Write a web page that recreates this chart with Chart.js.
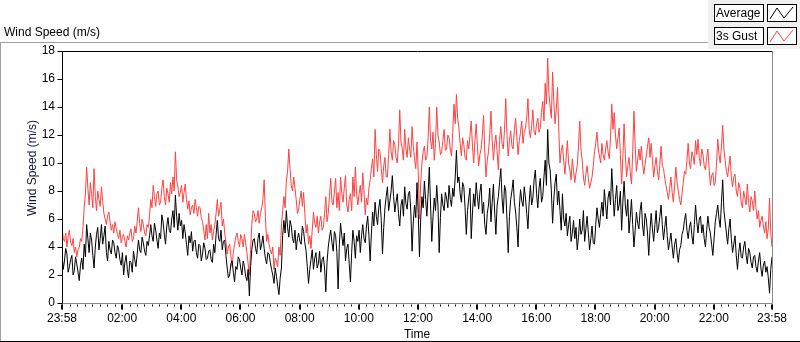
<!DOCTYPE html>
<html>
<head>
<meta charset="utf-8">
<script src="https://cdn.jsdelivr.net/npm/chart.js@4/dist/chart.umd.min.js"></script>
<style>
  html, body { margin: 0; padding: 0; background: #fff; }
  #wrap { position: relative; width: 800px; height: 342px; }
</style>
</head>
<body>
<div id="wrap"><canvas id="windChart" width="800" height="342"></canvas></div>
<script>
// setup - values, one sample every 2.5 minutes from 23:58
// (one row = one hour)
const sampleStepMin = 2.5;

const avgSpeed = [
  3.6,2.4,3.0,3.9,3.5,2.2,2.6,3.1,3.4,2.0,2.3,3.3,2.8,2.2,1.6,2.7,3.2,2.4,4.2,3.3,5.6,4.6,3.6,5.0,
  4.5,3.4,2.5,4.0,4.9,5.4,3.8,4.6,5.6,4.2,4.8,5.5,3.6,3.0,4.4,3.8,3.5,4.5,4.3,3.6,3.2,4.1,3.8,3.1,
  2.7,3.6,2.0,2.9,3.4,2.4,1.8,3.0,2.9,2.2,3.7,3.1,2.6,3.5,4.5,3.8,3.6,4.7,4.3,3.7,3.4,4.4,4.1,4.8,
  5.6,4.8,4.4,5.7,5.2,4.5,3.9,5.0,4.6,6.3,5.8,4.9,4.2,5.5,6.1,5.2,5.0,6.0,6.6,5.4,7.7,6.2,5.2,6.4,
  5.5,5.9,4.6,5.6,5.0,4.2,3.4,4.8,4.3,5.1,3.7,4.4,4.5,3.6,3.2,4.2,4.1,3.0,3.5,4.3,3.9,3.1,3.2,3.7,
  3.8,3.1,2.9,4.2,3.6,4.9,5.9,4.6,4.4,5.2,3.8,4.4,4.5,3.4,2.5,1.8,2.0,2.8,3.0,2.2,1.5,2.6,2.4,3.3,
  3.1,2.5,2.0,3.0,2.6,1.9,1.6,2.4,0.5,2.6,3.8,4.5,4.6,3.9,3.5,4.6,5.0,3.8,4.2,4.8,3.9,3.2,2.8,3.6,
  3.5,2.9,2.4,2.0,1.4,2.5,1.9,1.2,0.6,1.8,2.5,4.8,5.9,5.0,6.6,5.4,4.7,5.9,5.5,4.6,4.3,5.2,3.8,4.6,
  5.0,4.4,4.2,5.5,5.1,4.3,3.7,2.6,1.4,2.4,3.1,3.8,2.4,3.2,3.6,2.5,2.8,3.7,2.2,3.1,3.3,2.5,0.8,2.9,
  4.0,4.7,5.2,4.3,3.7,5.1,4.8,3.6,1.0,4.2,5.7,4.8,4.1,5.0,3.0,3.9,4.2,2.8,1.5,3.6,5.2,4.4,3.2,4.8,
  4.4,5.2,3.6,4.8,5.6,4.6,4.3,5.5,6.2,4.8,3.0,5.0,6.5,5.5,7.2,6.2,5.6,6.8,7.4,5.9,3.5,5.4,6.8,7.6,
  8.3,6.6,7.3,8.0,9.1,7.6,6.5,7.2,7.8,6.4,5.5,7.0,7.4,6.2,8.3,7.1,6.7,7.8,8.0,6.5,3.7,5.8,7.0,6.1,
  8.6,6.4,3.3,6.0,7.6,6.8,8.7,7.4,6.2,7.8,9.7,7.0,4.4,6.2,7.5,6.6,8.4,7.0,3.6,6.1,7.8,7.0,6.6,7.9,
  7.5,6.8,8.4,7.4,6.9,8.2,7.6,9.0,10.9,8.6,9.0,7.8,7.2,8.6,8.3,6.8,4.9,6.6,7.5,8.2,4.6,6.5,7.8,6.9,
  8.6,7.6,6.7,7.9,8.5,6.4,7.2,5.6,4.9,6.4,7.0,8.2,5.8,7.2,8.5,6.5,4.9,7.0,7.6,8.6,9.6,7.5,6.4,8.4,
  8.0,6.0,3.6,6.2,7.4,8.0,8.8,7.2,6.5,5.4,4.0,6.8,8.1,7.3,6.9,8.3,7.5,6.4,5.3,7.2,8.4,7.0,7.5,8.8,
  9.5,7.8,6.8,8.2,8.9,7.2,7.6,9.0,10.2,8.4,12.4,10.0,9.5,8.0,5.7,7.4,8.6,9.2,7.0,8.0,6.6,5.2,7.8,6.0,
  5.5,6.4,4.8,5.6,6.2,4.4,5.0,5.9,4.6,5.4,3.8,4.7,6.0,4.9,5.2,6.6,4.4,5.3,6.2,5.0,3.8,4.6,5.5,4.3,
  4.2,5.6,6.8,6.0,5.4,6.4,7.2,6.2,8.1,7.0,6.0,7.5,8.0,7.0,9.6,7.8,6.2,7.4,8.4,6.6,7.0,8.0,5.2,7.2,
  8.7,7.0,6.2,7.4,5.0,6.1,7.4,5.6,4.0,5.2,6.5,5.7,5.3,6.6,7.2,5.5,4.8,6.4,6.0,5.0,3.4,5.2,6.4,5.3,
  4.4,5.6,6.6,5.0,5.4,6.2,7.0,5.6,4.5,5.4,6.2,4.8,3.8,4.4,5.0,4.0,3.2,4.2,4.6,3.6,2.9,3.8,4.1,4.9,
  5.2,5.9,6.4,5.2,4.6,5.4,5.8,4.8,4.2,5.6,7.0,5.8,5.0,6.0,6.2,5.0,5.6,4.6,4.0,5.2,6.2,5.4,5.0,4.2,
  3.4,4.6,5.8,6.4,7.0,6.0,5.4,7.2,8.8,6.6,5.8,5.0,4.2,5.3,6.0,4.6,3.6,4.2,4.8,3.4,2.4,3.6,4.3,3.3,
  3.2,4.0,4.4,3.4,2.8,3.9,3.6,2.9,2.5,3.3,3.4,2.6,2.2,3.0,3.6,2.5,1.9,2.7,3.0,2.2,2.6,1.8,0.7,2.4,
  3.3
];

const gustSpeed = [
  5.4,4.6,4.4,5.0,4.0,4.8,5.2,4.3,4.1,4.6,3.6,4.0,3.3,3.8,4.0,4.6,4.4,5.4,6.8,7.8,9.7,8.2,7.0,8.6,
  7.8,6.8,9.6,7.6,6.6,8.0,7.4,6.9,8.3,7.3,6.4,6.0,5.6,6.2,6.5,5.8,5.2,5.6,5.0,5.8,5.3,4.9,4.6,5.2,
  4.3,4.7,4.9,4.4,4.0,4.8,4.5,5.0,5.3,4.4,4.6,5.5,5.0,5.8,6.8,5.7,5.1,6.0,5.6,5.0,4.8,5.6,5.4,6.2,
  7.4,6.8,8.4,7.6,6.9,7.8,8.0,7.0,7.2,8.2,8.8,7.6,7.0,8.2,7.8,7.2,8.6,7.8,9.0,8.0,10.8,8.8,8.3,7.6,
  7.9,8.4,7.2,7.9,8.5,7.4,6.7,7.3,6.3,6.8,7.0,6.4,7.4,6.8,6.2,6.9,6.8,6.1,5.8,5.2,4.5,5.6,4.6,6.4,
  5.0,5.6,4.5,5.1,5.6,6.4,7.4,6.2,6.7,7.2,5.5,6.0,5.0,4.4,3.5,4.0,4.2,3.4,2.6,3.6,4.2,4.7,5.0,4.4,
  4.0,4.9,4.6,4.0,4.9,4.3,3.6,2.8,2.0,3.8,5.6,6.6,6.4,5.8,6.0,6.6,5.7,6.4,6.8,7.4,8.8,6.2,4.4,4.9,
  4.2,3.8,3.5,4.0,2.4,3.2,3.0,2.6,4.0,3.4,5.5,6.6,7.6,6.8,8.7,9.4,11.0,9.6,8.4,8.0,9.0,8.2,7.4,6.4,
  6.7,7.4,8.0,6.9,7.9,6.4,5.0,5.6,4.2,4.8,3.9,5.2,6.5,5.7,5.4,6.2,5.0,5.8,6.2,5.2,5.4,6.4,7.6,5.8,
  6.4,7.6,8.9,7.2,7.0,8.0,8.9,6.8,7.9,6.6,9.0,7.8,7.2,8.2,9.1,7.0,6.5,7.4,7.8,6.6,9.0,7.6,9.7,7.8,
  7.0,7.8,8.4,7.2,9.3,8.0,6.3,7.5,7.0,8.2,8.8,9.6,10.3,9.0,12.4,10.6,9.4,11.0,10.8,9.6,8.6,9.8,10.4,9.0,
  9.0,10.6,12.4,10.8,10.2,11.6,11.3,10.4,10.0,11.4,13.8,11.5,11.0,10.2,12.4,11.0,10.4,11.8,11.0,10.4,12.6,11.2,10.3,9.6,
  11.5,9.4,6.0,8.6,10.0,10.8,11.2,10.2,10.4,11.8,14.0,11.6,11.0,12.2,10.2,11.4,14.0,12.0,11.5,10.6,10.8,11.6,12.4,10.9,
  11.0,12.0,11.8,11.0,10.5,12.2,14.2,12.8,14.9,13.2,12.5,11.4,10.5,11.8,11.3,10.4,10.2,11.6,11.0,12.0,13.0,11.2,10.0,11.6,
  12.8,11.2,9.8,10.6,11.0,12.0,13.4,10.8,9.0,10.2,10.8,12.0,13.7,11.6,10.2,11.4,12.0,10.8,9.5,11.6,12.6,11.4,11.0,12.4,
  14.6,12.0,10.5,11.6,12.3,11.2,11.0,12.4,13.2,11.8,10.6,11.6,12.2,13.0,11.4,12.2,12.5,13.2,14.6,12.4,11.8,12.6,13.8,12.2,
  12.0,12.8,13.2,12.2,12.5,13.6,14.4,13.0,15.7,14.2,17.5,15.0,14.0,13.2,16.5,14.4,12.8,13.8,15.4,12.4,10.0,10.9,11.3,10.2,
  9.2,10.4,11.6,10.0,9.5,8.8,10.3,9.4,8.6,9.3,9.8,11.2,13.0,11.0,10.2,9.0,8.4,9.2,9.8,8.9,8.2,8.6,9.0,9.8,
  10.8,11.4,12.2,11.0,10.5,10.0,11.4,10.6,10.2,11.0,11.6,10.8,10.3,11.8,14.2,12.4,13.6,12.0,11.0,11.8,12.5,10.6,8.5,10.4,
  12.8,10.6,9.0,9.8,10.4,9.4,8.5,10.8,13.7,11.2,9.4,10.2,11.0,10.2,11.2,10.0,9.2,9.9,10.5,11.2,11.8,10.4,11.4,10.2,
  9.0,9.8,10.4,9.4,8.8,9.9,11.2,9.8,9.6,8.9,8.4,7.9,7.4,8.2,9.0,7.9,7.2,8.4,9.7,8.6,8.0,7.4,7.0,7.8,
  8.6,9.4,9.2,10.2,11.4,10.0,9.6,10.8,10.5,9.9,11.6,10.6,11.7,10.4,9.8,11.0,10.6,9.8,9.5,10.4,11.0,9.6,8.4,9.1,
  9.3,8.4,8.6,10.0,11.7,10.6,10.0,11.2,12.7,11.0,10.2,9.4,9.0,9.8,10.5,9.0,8.3,9.0,9.2,8.0,7.6,8.6,8.2,7.2,
  6.8,8.0,7.5,7.0,8.5,7.2,6.5,7.6,7.3,6.6,8.0,6.8,6.0,6.6,5.4,5.9,6.2,5.5,5.0,5.8,4.6,5.3,7.5,5.0,
  4.0
];

// x axis labels (minutes after 23:58)
const tickLabels  = ['23:58','02:00','04:00','06:00','08:00','10:00','12:00','14:00','16:00','18:00','20:00','22:00','23:58'];
const tickMinutes = [0,122,242,362,482,602,722,842,962,1082,1202,1322,1440];
const minorPerMajor = 8;

const FONT = { family: 'Liberation Sans', size: 12 };

const toPoints = arr => arr.map((v, i) => ({ x: i * sampleStepMin, y: v }));

// frame, tick marks, header, y title and legend (LabVIEW look)
const framePlugin = {
    id: 'frame',
    afterDraw(chart) {
        const c = chart.ctx;
        const a = chart.chartArea;
        const xs = chart.scales.x, ys = chart.scales.y;
        c.save();
        c.lineWidth = 1;

        // outer panel
        c.strokeStyle = '#a0a0a0';
        c.beginPath();
        c.moveTo(0, 42.5); c.lineTo(708, 42.5);
        c.moveTo(0.5, 42); c.lineTo(0.5, 342);
        c.stroke();
        c.strokeStyle = '#000';
        c.beginPath(); c.moveTo(0, 341.5); c.lineTo(800, 341.5); c.stroke();

        // plot box
        const L = Math.round(a.left) + 0.5, R = Math.round(a.right) + 0.5;
        const T = Math.round(a.top) + 0.5, B = Math.round(a.bottom) + 0.5;
        c.strokeStyle = '#000';
        c.beginPath();
        c.moveTo(L, B); c.lineTo(L, T); c.lineTo(R, T);
        c.stroke();
        c.strokeStyle = '#8a8a8a';
        c.beginPath();
        c.moveTo(L, B); c.lineTo(R, B); c.lineTo(R, T);
        c.stroke();

        // y ticks
        c.strokeStyle = '#000';
        c.beginPath();
        ys.ticks.forEach(t => {
            const y = Math.round(ys.getPixelForValue(t.value)) + 0.5;
            c.moveTo(L - 5, y); c.lineTo(L, y);
        });
        // x ticks
        xs.ticks.forEach(t => {
            const x = Math.round(xs.getPixelForValue(t.value)) + 0.5;
            const major = tickMinutes.includes(t.value);
            c.moveTo(x, B + 1); c.lineTo(x, B + (major ? 6 : 3));
        });
        c.stroke();
        c.fillStyle = '#000';
        xs.ticks.forEach(t => {
            if (tickMinutes.includes(t.value)) {
                const x = Math.round(xs.getPixelForValue(t.value));
                c.fillRect(x - 1, B + 1, 2, 5);
            }
        });

        c.font = '12px "Liberation Sans"';
        c.fillStyle = '#000';

        // y axis title
        c.save();
        c.translate(36, 168);
        c.rotate(-Math.PI / 2);
        c.textAlign = 'center';
        c.textBaseline = 'alphabetic';
        c.fillStyle = '#101830';
        c.fillText('Wind Speed (m/s)', 0, 0);
        c.restore();

        // header label
        c.textBaseline = 'alphabetic';
        c.fillText('Wind Speed (m/s)', 4, 36);

        // legend panel
        c.fillStyle = '#f0f0f0';
        c.fillRect(708, 0, 92, 49);
        const rows = [
            { text: 'Average', color: '#000', y: 4 },
            { text: '3s Gust', color: '#ff4040', y: 27 }
        ];
        rows.forEach(r => {
            c.fillStyle = '#fff';
            c.fillRect(714, r.y, 50, 18);
            c.fillRect(767, r.y, 30, 18);
            c.strokeStyle = '#000';
            c.strokeRect(714.5, r.y + 0.5, 49, 17);
            c.strokeRect(767.5, r.y + 0.5, 29, 17);
            c.fillStyle = '#000';
            c.fillText(r.text, 716, r.y + 13);
            c.strokeStyle = r.color;
            c.beginPath();
            c.moveTo(770, r.y + 15); c.lineTo(777, r.y + 4);
            c.lineTo(784, r.y + 14); c.lineTo(793, r.y + 3);
            c.stroke();
        });
        c.restore();
    }
};

// config
const config = {
    type: 'line',
    data: {
        datasets: [{
            label: 'Average',
            data: toPoints(avgSpeed),
            borderColor: '#000000',
            borderWidth: 1,
            pointRadius: 0
        }, {
            label: '3s Gust',
            data: toPoints(gustSpeed),
            borderColor: '#ff4040',
            borderWidth: 1,
            pointRadius: 0
        }]
    },
    options: {
        responsive: false,
        animation: false,
        layout: { padding: { left: 0, top: 51, right: 28, bottom: 0 } },
        plugins: { legend: { display: false }, tooltip: { enabled: false } },
        scales: {
            x: {
                type: 'linear',
                min: 0,
                max: 1440,
                afterFit: s => { s.height = 39; },
                afterBuildTicks: s => {
                    const ticks = [];
                    for (let i = 0; i < tickMinutes.length - 1; i++) {
                        const a = tickMinutes[i], b = tickMinutes[i + 1];
                        for (let k = 0; k < minorPerMajor; k++) ticks.push({ value: a + (b - a) * k / minorPerMajor });
                    }
                    ticks.push({ value: tickMinutes[tickMinutes.length - 1] });
                    s.ticks = ticks;
                },
                grid: { display: false, drawTicks: false },
                border: { display: false },
                ticks: {
                    autoSkip: false,
                    maxRotation: 0,
                    padding: 8,
                    color: '#000',
                    font: FONT,
                    callback: v => {
                        const i = tickMinutes.indexOf(v);
                        return i >= 0 ? tickLabels[i] : '';
                    }
                },
                title: { display: true, text: 'Time', color: '#000', font: FONT, padding: { top: 0, bottom: 0 } }
            },
            y: {
                min: 0,
                max: 18,
                afterFit: s => { s.width = 62; },
                grid: { display: false, drawTicks: false },
                border: { display: false },
                ticks: { stepSize: 2, padding: 7, color: '#000', font: FONT }
            }
        }
    },
    plugins: [framePlugin]
};

// render init block
const windChart = new Chart(document.getElementById('windChart'), config);
</script>
</body>
</html>
